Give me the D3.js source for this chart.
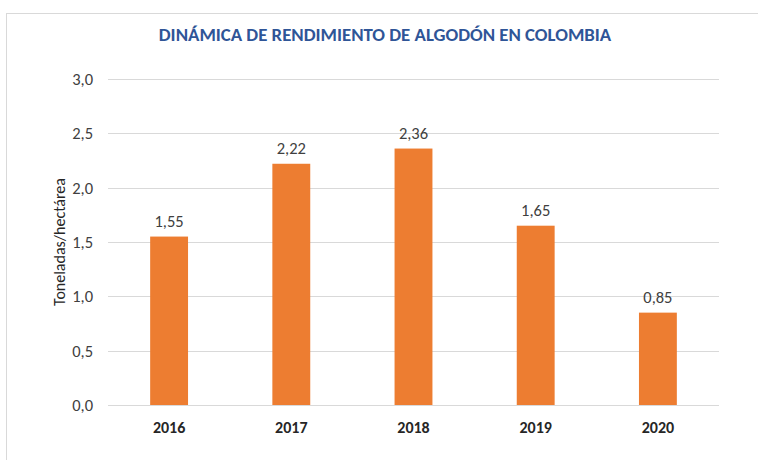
<!DOCTYPE html>
<html lang="es"><head>
<meta charset="utf-8">
<title>rendimiento algodon</title>
<script src="https://cdn.jsdelivr.net/npm/d3@7"></script>
<style>
  body { margin: 0; background: #fff; }
  svg { font-family: Carlito, Calibri, Lato, sans-serif; }
</style>
</head>
<body>
<svg width="758" height="460"></svg>
<script>
// data
var years = ["2016", "2017", "2018", "2019", "2020"];
var yields = [1.55, 2.22, 2.36, 1.65, 0.85];
var yTicks = [0, 0.5, 1.0, 1.5, 2.0, 2.5, 3.0];

var svg = d3.select("svg");
var margin = {left: 108, right: 39, top: 79, bottom: 55};
var width = 758 - margin.left - margin.right,
    height = 460 - margin.top - margin.bottom;

var fmt = function(v) { return d3.format(".1f")(v).replace(".", ","); };
var fmt2 = function(v) { return d3.format(".2f")(v).replace(".", ","); };

// chart frame
svg.append("rect")
  .attr("x", 6.5).attr("y", 13.5)
  .attr("width", 800).attr("height", 500)
  .attr("fill", "#fff")
  .attr("stroke", "#d9d9d9");

var x = d3.scaleBand().domain(years).range([0, width]).paddingInner(0.69).paddingOuter(0.345);
var y = d3.scaleLinear().domain([0, 3]).range([height, 0]);

var g = svg.append("g").attr("transform", "translate(" + margin.left + "," + margin.top + ")");

// gridlines
g.selectAll(".grid")
  .data(yTicks)
  .enter().append("line")
  .attr("x1", 0).attr("x2", width)
  .attr("y1", function(d) { return Math.round(y(d)) + 0.5; })
  .attr("y2", function(d) { return Math.round(y(d)) + 0.5; })
  .attr("stroke", "#d9d9d9")
  .attr("stroke-width", 1);

// y tick labels
g.selectAll(".ytick")
  .data(yTicks)
  .enter().append("text")
  .attr("x", -15)
  .attr("y", function(d) { return y(d) + 6; })
  .attr("text-anchor", "end")
  .attr("font-size", "16.5px")
  .attr("fill", "#404040")
  .text(fmt);

// bars
g.selectAll(".bar")
  .data(yields)
  .enter().append("rect")
  .attr("x", function(d, i) { return x(years[i]); })
  .attr("y", function(d) { return y(d); })
  .attr("width", x.bandwidth())
  .attr("height", function(d) { return height - y(d); })
  .attr("fill", "#ed7d31");

// value labels
g.selectAll(".val")
  .data(yields)
  .enter().append("text")
  .attr("x", function(d, i) { return x(years[i]) + x.bandwidth() / 2; })
  .attr("y", function(d) { return y(d) - 10; })
  .attr("text-anchor", "middle")
  .attr("font-size", "16.5px")
  .attr("fill", "#404040")
  .text(fmt2);

// x labels
g.selectAll(".xlab")
  .data(years)
  .enter().append("text")
  .attr("x", function(d) { return x(d) + x.bandwidth() / 2; })
  .attr("y", height + 28)
  .attr("text-anchor", "middle")
  .attr("font-size", "16px")
  .attr("font-weight", "bold")
  .attr("fill", "#262626")
  .text(function(d) { return d; });

// axis title
svg.append("text")
  .attr("transform", "translate(65,242) rotate(-90)")
  .attr("text-anchor", "middle")
  .attr("font-size", "16px")
  .attr("fill", "#262626")
  .text("Toneladas/hectárea");

// chart title
svg.append("text")
  .attr("x", 385)
  .attr("y", 41)
  .attr("text-anchor", "middle")
  .attr("font-size", "18.8px")
  .attr("font-weight", "bold")
  .attr("fill", "#2f5597")
  .text("DINÁMICA DE RENDIMIENTO DE ALGODÓN EN COLOMBIA");
</script>
</body>
</html>
